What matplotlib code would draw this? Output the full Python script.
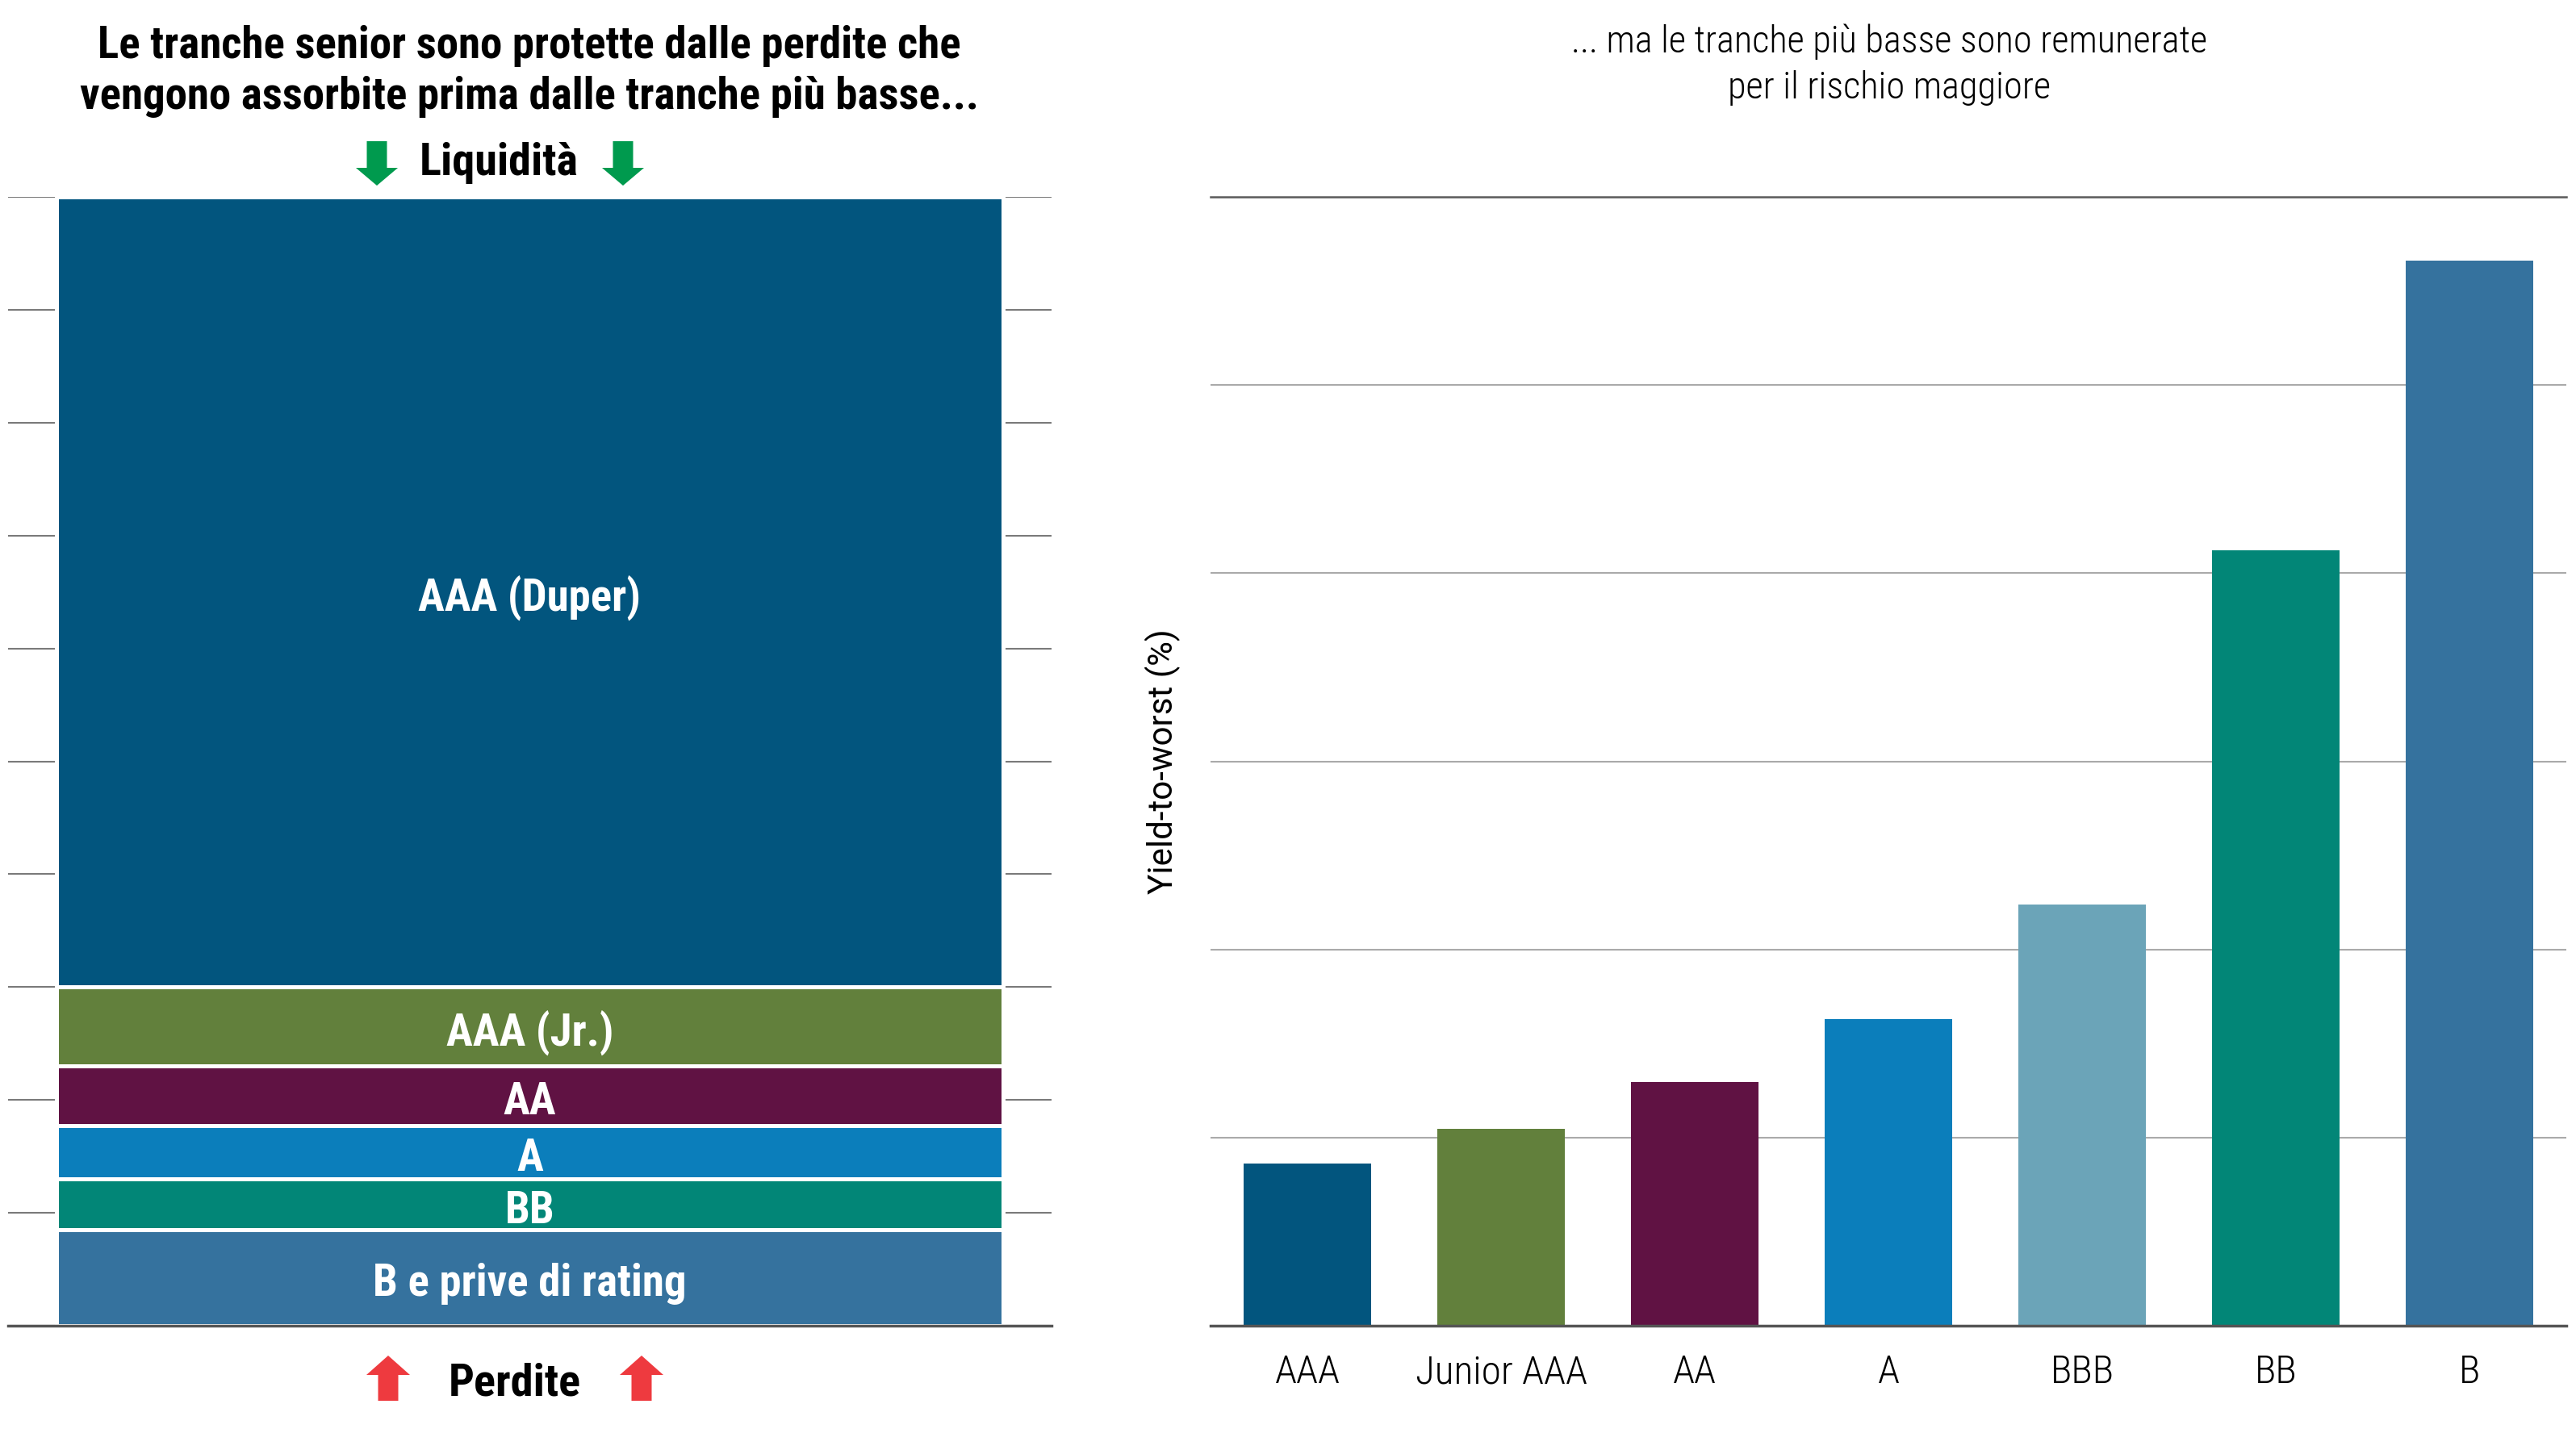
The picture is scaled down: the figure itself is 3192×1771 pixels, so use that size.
import matplotlib
matplotlib.use("Agg")
import matplotlib.pyplot as plt
import numpy as np

# left panel: capital structure (% of the deal), bottom -> top
tranches = ["B e prive di rating", "BB", "A", "AA", "AAA (Jr.)", "AAA (Duper)"]
tranche_pct = [8.5, 4.5, 4.75, 5.25, 7.0, 70.0]
tranche_colors = ["#35729E", "#028677", "#0B7EBB", "#601243", "#62803C", "#02557E"]

# right panel: yield-to-worst by rating (no axis values shown in the original)
ratings = ["AAA", "Junior AAA", "AA", "A", "BBB", "BB", "B"]
ytw = [1.72, 2.09, 2.59, 3.26, 4.48, 8.24, 11.32]
rating_colors = ["#02557E", "#62803C", "#601243", "#0B7EBB", "#6BA4B8", "#028677", "#35729E"]

title_left = "Le tranche senior sono protette dalle perdite che\nvengono assorbite prima dalle tranche più basse..."
title_right = "... ma le tranche più basse sono remunerate\nper il rischio maggiore"

W, H = 3192, 1771
fig = plt.figure(figsize=(W / 100, H / 100), dpi=100)

cond = "Roboto Condensed"

# ---- left: stacked tranche bar
ax1 = fig.add_axes([10 / W, 1 - 1643 / H, 1293 / W, 1399 / H])
bottoms = np.concatenate([[0], np.cumsum(tranche_pct)[:-1]])
ax1.bar(0.5, tranche_pct, bottom=bottoms, width=0.907, color=tranche_colors,
        edgecolor="white", linewidth=3.6)
for name, b, v in zip(tranches, bottoms, tranche_pct):
    ax1.annotate(name, (0.5, b + v / 2), xytext=(0, -16.5), textcoords="offset points",
                 ha="center", va="baseline", color="white",
                 family=cond, weight="bold", fontsize=39.5)
ax1.set_xlim(0, 1)
ax1.set_ylim(0, 100)
ax1.set_yticks(np.arange(0, 101, 10))
ax1.set_xticks([])
ax1.tick_params(left=False, labelleft=False)
ax1.grid(axis="y", color="#7a7a7a", linewidth=1.5)
ax1.set_axisbelow(True)
for s in ["top", "left", "right"]:
    ax1.spines[s].set_visible(False)
ax1.spines["bottom"].set_color("#555555")
ax1.spines["bottom"].set_linewidth(2.5)
ax1.spines["bottom"].set_zorder(5)

# ---- right: yield bars
ax2 = fig.add_axes([1500 / W, 1 - 1643 / H, 1680 / W, 1399 / H])
x = np.arange(len(ratings))
ax2.bar(x, ytw, width=0.66, color=rating_colors)
ax2.set_xlim(-0.5, 6.5)
ax2.set_ylim(0, 12)
ax2.set_yticks(np.arange(0, 13, 2))
ax2.set_xticks(x)
ax2.set_xticklabels(ratings, family=cond, weight=300, fontsize=35.5)
ax2.tick_params(axis="x", length=0, pad=25)
ax2.tick_params(axis="y", left=False, labelleft=False)
ax2.grid(axis="y", color="#aaaaaa", linewidth=1.5)
ax2.set_axisbelow(True)
for s in ["left", "right"]:
    ax2.spines[s].set_visible(False)
ax2.spines["top"].set_color("#5a5a5a")
ax2.spines["top"].set_linewidth(1.8)
ax2.spines["bottom"].set_color("#555555")
ax2.spines["bottom"].set_linewidth(2.5)
ax2.spines["bottom"].set_zorder(5)
ax2.set_ylabel("Yield-to-worst (%)", family="Roboto", fontsize=30.3, va="center")
ax2.yaxis.set_label_coords(-0.035, 0.5)

# ---- titles and flow annotations (pixel coordinates overlay)
ov = fig.add_axes([0, 0, 1, 1], zorder=10)
ov.set_xlim(0, W)
ov.set_ylim(H, 0)
ov.axis("off")

# va="baseline" on multi-line text anchors the last line's baseline
ov.text(656, 135, title_left, ha="center", va="baseline", family=cond, weight="bold",
        fontsize=39.5, linespacing=1.27)
ov.text(2341, 122, title_right, ha="center", va="baseline", family=cond, weight=300,
        fontsize=33.4, linespacing=1.37)

ov.text(618, 217, "Liquidità", ha="center", va="baseline", family=cond, weight="bold", fontsize=40.5)
for ax_x in [467, 772]:
    ov.arrow(ax_x, 175, 0, 55, width=25, head_width=52, head_length=22,
             length_includes_head=True, color="#009A4E", linewidth=0)

ov.text(638, 1729, "Perdite", ha="center", va="baseline", family=cond, weight="bold", fontsize=40.5)
for ax_x in [481, 795]:
    ov.arrow(ax_x, 1736, 0, -56, width=25, head_width=54, head_length=24,
             length_includes_head=True, color="#EE3A3F", linewidth=0)

fig.savefig("out.png", dpi=100)
